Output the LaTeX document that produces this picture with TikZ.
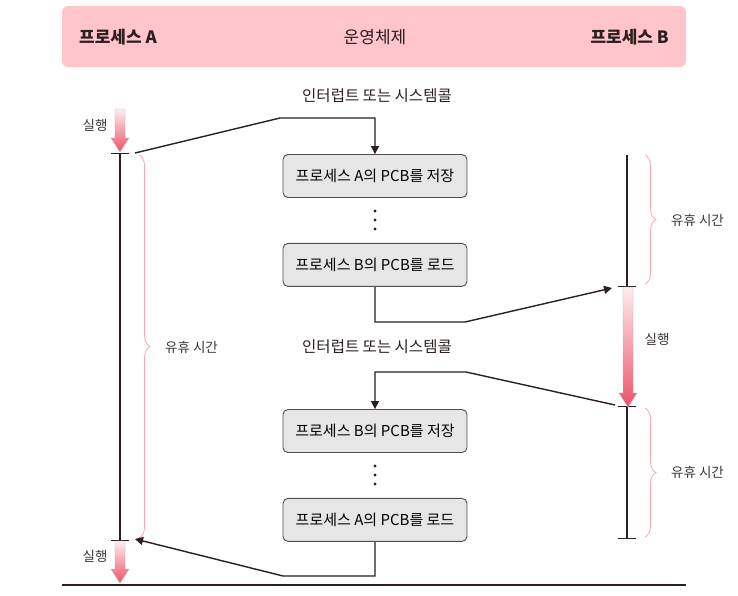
\documentclass[tikz,border=0pt]{standalone}
\usepackage{fontspec}
\setmainfont{Noto Sans CJK KR}
\usetikzlibrary{positioning,arrows.meta,decorations.pathreplacing}
\definecolor{cHead}{HTML}{FFC5CB}
\definecolor{cBox}{HTML}{E6E6E6}
\definecolor{cLine}{HTML}{2B1F1F}
\definecolor{cRun}{HTML}{F0506A}
\definecolor{cIdle}{HTML}{FFA3AD}
\tikzset{
  hdr/.style    ={font=\fontsize{17}{19}\selectfont\bfseries, text=cLine, inner sep=0pt},
  pcb/.style    ={rounded corners=5pt, draw=cLine!80, fill=cBox, line width=0.9pt,
                  minimum width=184pt, minimum height=43pt, font=\fontsize{15}{17}\selectfont},
  lbl/.style    ={font=\fontsize{13.5}{15}\selectfont, text=cLine!90, inner sep=1pt},
  irq/.style    ={font=\fontsize{15.5}{17}\selectfont, text=cLine, inner sep=1pt},
  dot/.style    ={circle, fill=cLine, inner sep=0pt, minimum size=3.4pt},
  tline/.style  ={line width=2.6pt, draw=cLine},
  tick/.style   ={line width=0.9pt, draw=cLine},
  arr/.style    ={-{Triangle[length=8pt,width=8pt]}, line width=1.4pt, draw=cLine},
  idle/.style   ={decorate, decoration={brace, amplitude=11pt}, draw=cIdle, line width=0.8pt},
}
% x, y top, y tip
\newcommand{\runarrow}[3]{%
  \path[draw=gray!60, line width=0.4pt, top color=cRun!10, bottom color=cRun]
    (#1-5,#2) -- (#1+5,#2) -- (#1+5,#3-14) -- (#1+9,#3-14) -- (#1,#3)
    -- (#1-9,#3-14) -- (#1-5,#3-14) -- cycle;}

\begin{document}
\begin{tikzpicture}[x=1pt, y=-1pt]
\useasboundingbox (0,0) rectangle (738,595);

% header bar
\fill[cHead, rounded corners=6pt] (62,6) rectangle (686,67);
\node[hdr, anchor=west] (procA) at (79,37) {프로세스 A};
\node[hdr, font=\fontsize{17}{19}\selectfont] (os) at (375,37) {운영체제};
\node[hdr, anchor=east] (procB) at (669,37) {프로세스 B};

% operating system column
\node[irq] (irq1) at (377,96) {인터럽트 또는 시스템콜};
\node[pcb] (saveA) at (375,176) {프로세스 A의 PCB를 저장};
\node[pcb, below=45pt of saveA] (loadB) {프로세스 B의 PCB를 로드};
\node[irq] (irq2) at (377,347) {인터럽트 또는 시스템콜};
\node[pcb] (saveB) at (375,431) {프로세스 B의 PCB를 저장};
\node[pcb, below=45pt of saveB] (loadA) {프로세스 A의 PCB를 로드};
\foreach \i in {1,2,3} {
  \node[dot] (dA\i) at ([yshift=-4pt-9*\i pt]saveA.south) {};
  \node[dot] (dB\i) at ([yshift=-4pt-9*\i pt]saveB.south) {};
}

% process A timeline
\draw[tline] (120,153) -- (120,540);
\draw[tick] (111,153) -- (129,153);
\draw[tick] (111,540) -- (129,540);
\runarrow{120}{109}{152}
\runarrow{120}{541}{583}
\node[lbl] (runA1) at (95,125) {실행};
\node[lbl] (runA2) at (95,556) {실행};
\draw[idle] (139,155) -- (139,538);
\node[lbl, anchor=west] (idleA) at (164,347) {유휴 시간};

% process B timeline
\draw[tline] (627,155) -- (627,286);
\draw[tline] (627,406) -- (627,538);
\draw[tick] (618,286) -- (636,286);
\draw[tick] (618,406) -- (636,406);
\draw[tick] (618,538) -- (636,538);
\runarrow{628}{287}{407}
\node[lbl] (runB) at (657,339) {실행};
\draw[idle] (645,155) -- (645,284);
\draw[idle] (645,408) -- (645,537);
\node[lbl, anchor=west] (idleB1) at (670,220) {유휴 시간};
\node[lbl, anchor=west] (idleB2) at (670,472) {유휴 시간};

% switches
\coordinate (aOut) at (135,153);
\coordinate (bIn) at (612,288);
\coordinate (bOut) at (615,405);
\coordinate (aIn) at (135,539);
\draw[arr] (aOut) -- (280,118) -| (saveA.north);
\draw[arr] (loadB.south) |- (465,322) -- (bIn);
\draw[arr] (bOut) -- (466,372) -| (saveB.north);
\draw[arr] (loadA.south) |- (283,576) -- (aIn);

% base line
\draw[line width=1.4pt, draw=cLine] (62,585) -- (686,585);
\end{tikzpicture}
\end{document}
